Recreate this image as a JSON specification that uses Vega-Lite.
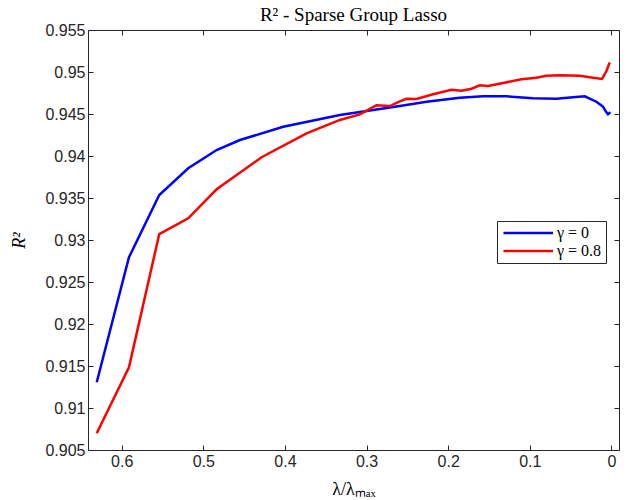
{
  "$schema": "https://vega.github.io/schema/vega-lite/v6.json",
  "width": 531,
  "height": 420,
  "autosize": {"type": "none"},
  "padding": {"left": 88, "top": 30, "right": 9, "bottom": 50},
  "background": "white",
  "config": {
    "view": {"stroke": null},
    "axis": {
      "grid": false,
      "domainColor": "#262626",
      "domainWidth": 1,
      "tickColor": "#262626",
      "tickSize": -5,
      "tickWidth": 1,
      "labelColor": "#262626",
      "labelFont": "Liberation Sans",
      "labelFontSize": 16,
      "titleFont": "Liberation Serif",
      "titleFontWeight": "normal",
      "titleColor": "black",
      "titleFontSize": 18
    }
  },
  "title": {
    "text": "R² - Sparse Group Lasso",
    "font": "Liberation Serif",
    "fontSize": 19,
    "fontWeight": "normal",
    "color": "black",
    "offset": -3
  },
  "data": {
    "values": [
      {"series": "γ = 0", "lambda": 0.6306, "r2": 0.91306},
      {"series": "γ = 0", "lambda": 0.5911, "r2": 0.92794},
      {"series": "γ = 0", "lambda": 0.5540, "r2": 0.93536},
      {"series": "γ = 0", "lambda": 0.5185, "r2": 0.93854},
      {"series": "γ = 0", "lambda": 0.4837, "r2": 0.94071},
      {"series": "γ = 0", "lambda": 0.4552, "r2": 0.94190},
      {"series": "γ = 0", "lambda": 0.4021, "r2": 0.94349},
      {"series": "γ = 0", "lambda": 0.3327, "r2": 0.94488},
      {"series": "γ = 0", "lambda": 0.2592, "r2": 0.94595},
      {"series": "γ = 0", "lambda": 0.2265, "r2": 0.94646},
      {"series": "γ = 0", "lambda": 0.1858, "r2": 0.94694},
      {"series": "γ = 0", "lambda": 0.1572, "r2": 0.94711},
      {"series": "γ = 0", "lambda": 0.1286, "r2": 0.94711},
      {"series": "γ = 0", "lambda": 0.0960, "r2": 0.94687},
      {"series": "γ = 0", "lambda": 0.0674, "r2": 0.94682},
      {"series": "γ = 0", "lambda": 0.0470, "r2": 0.94699},
      {"series": "γ = 0", "lambda": 0.0327, "r2": 0.94711},
      {"series": "γ = 0", "lambda": 0.0184, "r2": 0.94646},
      {"series": "γ = 0", "lambda": 0.0103, "r2": 0.94587},
      {"series": "γ = 0", "lambda": 0.0061, "r2": 0.94520},
      {"series": "γ = 0", "lambda": 0.0042, "r2": 0.94496},
      {"series": "γ = 0", "lambda": 0.0012, "r2": 0.94520},
      {"series": "γ = 0.8", "lambda": 0.6306, "r2": 0.90699},
      {"series": "γ = 0.8", "lambda": 0.5911, "r2": 0.91485},
      {"series": "γ = 0.8", "lambda": 0.5540, "r2": 0.93071},
      {"series": "γ = 0.8", "lambda": 0.5185, "r2": 0.93258},
      {"series": "γ = 0.8", "lambda": 0.4837, "r2": 0.93604},
      {"series": "γ = 0.8", "lambda": 0.4286, "r2": 0.93985},
      {"series": "γ = 0.8", "lambda": 0.3735, "r2": 0.94270},
      {"series": "γ = 0.8", "lambda": 0.3327, "r2": 0.94429},
      {"series": "γ = 0.8", "lambda": 0.3082, "r2": 0.94496},
      {"series": "γ = 0.8", "lambda": 0.2878, "r2": 0.94604},
      {"series": "γ = 0.8", "lambda": 0.2715, "r2": 0.94595},
      {"series": "γ = 0.8", "lambda": 0.2592, "r2": 0.94651},
      {"series": "γ = 0.8", "lambda": 0.2510, "r2": 0.94682},
      {"series": "γ = 0.8", "lambda": 0.2388, "r2": 0.94679},
      {"series": "γ = 0.8", "lambda": 0.2185, "r2": 0.94735},
      {"series": "γ = 0.8", "lambda": 0.1959, "r2": 0.94789},
      {"series": "γ = 0.8", "lambda": 0.1837, "r2": 0.94777},
      {"series": "γ = 0.8", "lambda": 0.1714, "r2": 0.94801},
      {"series": "γ = 0.8", "lambda": 0.1613, "r2": 0.94842},
      {"series": "γ = 0.8", "lambda": 0.1511, "r2": 0.94833},
      {"series": "γ = 0.8", "lambda": 0.1328, "r2": 0.94869},
      {"series": "γ = 0.8", "lambda": 0.1102, "r2": 0.94913},
      {"series": "γ = 0.8", "lambda": 0.0919, "r2": 0.94932},
      {"series": "γ = 0.8", "lambda": 0.0796, "r2": 0.94956},
      {"series": "γ = 0.8", "lambda": 0.0634, "r2": 0.94961},
      {"series": "γ = 0.8", "lambda": 0.0389, "r2": 0.94956},
      {"series": "γ = 0.8", "lambda": 0.0226, "r2": 0.94932},
      {"series": "γ = 0.8", "lambda": 0.0115, "r2": 0.94917},
      {"series": "γ = 0.8", "lambda": 0.0061, "r2": 0.95012},
      {"series": "γ = 0.8", "lambda": 0.0021, "r2": 0.95115}
    ]
  },
  "layer": [
    {
      "mark": {"type": "line", "strokeWidth": 2.5},
      "encoding": {
        "x": {
          "field": "lambda",
          "type": "quantitative",
          "scale": {"domain": [-0.0093, 0.6413], "reverse": true, "nice": false, "zero": false},
          "axis": {
            "orient": "bottom",
            "values": [0, 0.1, 0.2, 0.3, 0.4, 0.5, 0.6],
            "format": ".1~f",
            "title": "λ/λₘₐₓ",
            "labelPadding": 8,
            "titlePadding": 11
          }
        },
        "y": {
          "field": "r2",
          "type": "quantitative",
          "scale": {"domain": [0.905, 0.955], "nice": false, "zero": false},
          "axis": {
            "orient": "left",
            "values": [0.905, 0.91, 0.915, 0.92, 0.925, 0.93, 0.935, 0.94, 0.945, 0.95, 0.955],
            "format": ".3~f",
            "title": "R²",
            "titleFontStyle": "italic",
            "labelPadding": 8,
            "titlePadding": 16
          }
        },
        "color": {
          "field": "series",
          "type": "nominal",
          "scale": {"domain": ["γ = 0", "γ = 0.8"], "range": ["#0000ff", "#ff0000"]},
          "legend": {
            "orient": "none",
            "legendX": 409,
            "legendY": 191,
            "title": null,
            "direction": "vertical",
            "fillColor": "white",
            "strokeColor": "#262626",
            "padding": 4,
            "symbolType": "M-1,0H8",
            "symbolSize": 121,
            "symbolStrokeWidth": 2.5,
            "labelFont": "Liberation Serif",
            "labelFontSize": 16,
            "labelColor": "black",
            "labelOffset": 40,
            "rowPadding": 2
          }
        }
      }
    },
    {
      "mark": {"type": "line", "opacity": 0},
      "encoding": {
        "x": {
          "field": "lambda",
          "type": "quantitative",
          "axis": {"orient": "top", "values": [0, 0.1, 0.2, 0.3, 0.4, 0.5, 0.6], "labels": false, "title": null}
        },
        "y": {
          "field": "r2",
          "type": "quantitative",
          "axis": {"orient": "right", "values": [0.905, 0.91, 0.915, 0.92, 0.925, 0.93, 0.935, 0.94, 0.945, 0.95, 0.955], "labels": false, "title": null}
        },
        "detail": {"field": "series"}
      }
    }
  ],
  "resolve": {"axis": {"x": "independent", "y": "independent"}}
}
